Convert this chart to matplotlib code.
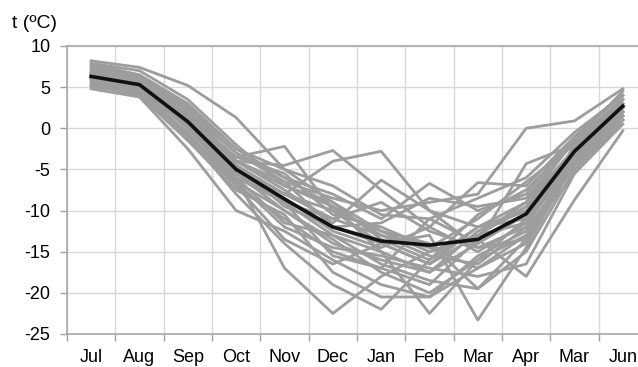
import matplotlib.pyplot as plt
import numpy as np

plt.rcParams['font.family'] = ['Liberation Sans', 'DejaVu Sans']
plt.rcParams['axes.unicode_minus'] = False

months = ["Jul", "Aug", "Sep", "Oct", "Nov", "Dec", "Jan", "Feb", "Mar", "Apr", "Mar", "Jun"]

# monthly mean temperature, one row per season
seasons = [
    [8.2, 7.4, 5.2, 1.3, -5.0, -9.0, -12.5, -15.0, -13.0, -9.5, -2.5, 3.5],
    [5.0, 4.5, 0.5, -3.5, -2.2, -10.0, -14.0, -16.5, -12.0, -11.0, -3.5, 2.0],
    [6.5, 5.5, 1.5, -4.0, -4.5, -2.7, -7.5, -12.0, -15.0, -11.5, -3.0, 3.0],
    [6.0, 5.0, 0.0, -5.0, -8.0, -4.0, -2.8, -10.0, -14.5, -12.0, -2.0, 2.5],
    [7.0, 6.0, 2.0, -6.0, -17.0, -22.5, -18.0, -15.0, -13.0, -9.0, -2.5, 3.0],
    [5.5, 4.8, -1.0, -8.0, -14.0, -19.0, -22.0, -16.0, -12.0, -10.0, -3.5, 2.0],
    [6.8, 5.5, 1.0, -5.5, -9.0, -13.0, -15.0, -22.5, -16.0, -11.0, -3.0, 2.5],
    [6.2, 5.0, 0.5, -4.5, -9.5, -12.0, -14.0, -13.0, -23.3, -14.5, -4.0, 1.5],
    [5.8, 4.5, -0.5, -7.0, -11.0, -15.0, -17.0, -19.0, -13.5, -18.0, -8.7, -0.3],
    [6.4, 5.6, 1.2, -4.5, -8.0, -10.0, -12.5, -14.0, -19.5, -15.0, -5.0, 1.0],
    [7.5, 6.2, 2.5, -3.0, -6.5, -8.5, -10.0, -9.0, -8.0, 0.0, 0.9, 4.8],
    [6.0, 5.2, 0.0, -6.5, -10.0, -14.0, -16.0, -17.5, -14.0, -4.3, -2.0, 3.5],
    [4.8, 3.8, -2.5, -10.0, -12.5, -16.0, -19.0, -20.5, -17.0, -13.0, -5.5, 1.0],
    [6.3, 5.3, 0.8, -4.0, -7.5, -11.5, -6.3, -10.0, -12.0, -9.0, -1.5, 3.5],
    [5.2, 4.0, -1.5, -7.5, -10.5, -17.5, -20.5, -20.5, -15.5, -12.5, -4.0, 1.5],
    [7.8, 6.5, 3.0, -2.5, -6.0, -8.0, -11.0, -6.7, -10.0, -8.0, -1.0, 4.0],
    [6.6, 5.8, 1.8, -5.0, -8.5, -12.5, -14.5, -12.0, -6.6, -7.0, -1.0, 4.0],
    [5.6, 4.6, 0.2, -6.0, -11.5, -13.0, -16.5, -18.5, -19.5, -13.5, -4.5, 1.5],
    [7.2, 5.9, 2.2, -4.0, -7.0, -9.5, -13.0, -15.5, -16.5, -12.0, -3.0, 2.5],
    [6.1, 5.1, 0.4, -5.5, -9.0, -15.5, -17.0, -11.0, -14.0, -10.5, -3.5, 2.0],
    [6.9, 5.7, 1.6, -3.5, -5.5, -10.5, -12.0, -14.5, -11.0, -6.5, -2.0, 3.0],
    [5.4, 4.2, -0.8, -6.5, -12.0, -14.5, -15.5, -17.0, -18.0, -16.5, -5.5, 0.5],
    [6.7, 5.4, 1.0, -4.5, -8.0, -11.0, -9.0, -12.5, -14.5, -13.5, -3.0, 2.0],
    [7.9, 7.0, 3.5, -2.0, -7.0, -9.0, -13.5, -16.0, -10.5, -7.5, -1.5, 4.5],
    [5.9, 4.9, 0.0, -5.5, -10.0, -13.5, -17.5, -20.0, -16.0, -13.0, -4.5, 1.0],
    [6.3, 5.5, 1.3, -4.0, -6.5, -12.0, -11.5, -8.5, -9.5, -8.5, -1.5, 3.5],
    [5.3, 4.3, -1.2, -7.0, -13.5, -16.5, -14.0, -16.5, -13.0, -11.5, -4.0, 1.5],
    [6.8, 6.0, 2.0, -3.0, -6.0, -9.5, -15.0, -17.5, -12.5, -10.0, -2.5, 2.5],
    [6.2, 4.8, 0.3, -6.0, -9.0, -11.0, -13.0, -14.5, -17.0, -14.0, -3.5, 2.0],
    [7.4, 6.4, 2.8, -2.5, -5.0, -7.0, -10.5, -11.0, -8.5, -6.0, -0.5, 4.0],
]

# long-term average
average = [6.3, 5.3, 0.8, -5.0, -8.6, -12.0, -13.7, -14.2, -13.5, -10.4, -2.8, 2.7]

fig = plt.figure(figsize=(6.38, 3.67), dpi=100)
ax = fig.add_axes([67 / 638, 1 - 334 / 367, 580 / 638, 288 / 367])

x = np.arange(len(months)) + 0.5
for row in seasons:
    ax.plot(x, row, color='#9d9d9d', lw=2.0, zorder=2)
ax.plot(x, average, color='#111111', lw=2.6, zorder=3)

ax.set_xlim(0, len(months))
ax.set_ylim(-25, 10)

ax.set_xticks(np.arange(len(months) + 1))
ax.set_xticklabels([])
ax.set_xticks(x, minor=True)
ax.set_xticklabels(months, minor=True)
ax.set_yticks(np.arange(-25, 11, 5))

ax.tick_params(axis='x', which='major', length=5, width=1, color='#a0a0a0', direction='out')
ax.tick_params(axis='x', which='minor', length=0, pad=11, labelsize=13)
ax.tick_params(axis='y', length=5, width=1, color='#a0a0a0', direction='out', pad=7, labelsize=13)

ax.grid(True, which='major', color='#d8d8d8', lw=1)
ax.set_axisbelow(True)

for side in ['left', 'bottom', 'top']:
    ax.spines[side].set_color('#a8a8a8')
    ax.spines[side].set_linewidth(1.2)
ax.spines['right'].set_visible(False)

fig.text(12 / 638, 1 - 28 / 367, 't (ºC)', fontsize=14, va='baseline', ha='left')

fig.savefig('out.png', dpi=100)
